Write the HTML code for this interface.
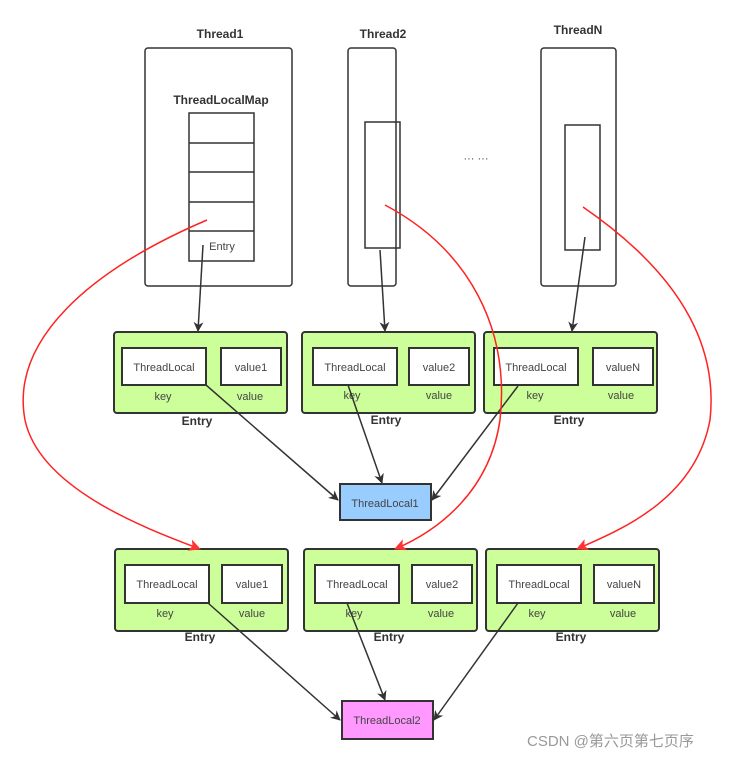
<!DOCTYPE html>
<html><head><meta charset="utf-8"><style>
body{margin:0;background:#fff;}
svg{display:block;font-family:"Liberation Sans","Noto Sans CJK SC",sans-serif;}
.b{font-weight:bold;font-size:12px;fill:#333;}
.t{font-size:11px;fill:#444;}
</style></head><body>
<svg width="732" height="758" viewBox="0 0 732 758">
<defs>
<marker id="ak" markerWidth="10" markerHeight="10" refX="9" refY="5" orient="auto" markerUnits="userSpaceOnUse"><path d="M0,0 L10,5 L0,10 L3,5z" fill="#333"/></marker>
<marker id="ar" markerWidth="12" markerHeight="12" refX="11" refY="6" orient="auto" markerUnits="userSpaceOnUse"><path d="M0,0 L12,6 L0,12 L3,6z" fill="#f33"/></marker>
</defs>
<g fill="none" stroke="#333" stroke-width="1.5">
<rect x="145" y="48" width="147" height="238" rx="3"/>
<rect x="348" y="48" width="48" height="238" rx="3"/>
<rect x="541" y="48" width="75" height="238" rx="3"/>
<rect x="189" y="113" width="65" height="148"/>
<line x1="189" y1="143" x2="254" y2="143"/><line x1="189" y1="172" x2="254" y2="172"/>
<line x1="189" y1="202" x2="254" y2="202"/><line x1="189" y1="231" x2="254" y2="231"/>
<rect x="365" y="122" width="35" height="126"/>
<rect x="565" y="125" width="35" height="125"/>
</g>
<text class="b" x="220" y="38" text-anchor="middle">Thread1</text>
<text class="b" x="383" y="38" text-anchor="middle">Thread2</text>
<text class="b" x="578" y="34" text-anchor="middle">ThreadN</text>
<text class="b" x="221" y="104" text-anchor="middle">ThreadLocalMap</text>
<text class="t" x="222" y="250" text-anchor="middle">Entry</text>
<text class="t" x="476" y="162" text-anchor="middle">··· ···</text>
<g stroke="#333" stroke-width="2">
<rect x="114" y="332" width="173" height="81" rx="3" fill="#ccff99"/>
<rect x="302" y="332" width="173" height="81" rx="3" fill="#ccff99"/>
<rect x="484" y="332" width="173" height="81" rx="3" fill="#ccff99"/>
<rect x="115" y="549" width="173" height="82" rx="3" fill="#ccff99"/>
<rect x="304" y="549" width="173" height="82" rx="3" fill="#ccff99"/>
<rect x="486" y="549" width="173" height="82" rx="3" fill="#ccff99"/>
<rect x="340" y="484" width="91" height="36" fill="#99ccff"/>
<rect x="342" y="701" width="91" height="38" fill="#ff99ff"/>
<g fill="#fff">
<rect x="122" y="348" width="84" height="37"/><rect x="221" y="348" width="60" height="37"/>
<rect x="313" y="348" width="84" height="37"/><rect x="409" y="348" width="60" height="37"/>
<rect x="494" y="348" width="84" height="37"/><rect x="593" y="348" width="60" height="37"/>
<rect x="125" y="565" width="84" height="38"/><rect x="222" y="565" width="60" height="38"/>
<rect x="315" y="565" width="84" height="38"/><rect x="412" y="565" width="60" height="38"/>
<rect x="497" y="565" width="84" height="38"/><rect x="594" y="565" width="60" height="38"/>
</g></g>
<g class="t" text-anchor="middle">
<text x="164" y="371">ThreadLocal</text><text x="251" y="371">value1</text>
<text x="355" y="371">ThreadLocal</text><text x="439" y="371">value2</text>
<text x="536" y="371">ThreadLocal</text><text x="623" y="371">valueN</text>
<text x="167" y="588">ThreadLocal</text><text x="252" y="588">value1</text>
<text x="357" y="588">ThreadLocal</text><text x="442" y="588">value2</text>
<text x="539" y="588">ThreadLocal</text><text x="624" y="588">valueN</text>
<text x="163" y="400">key</text><text x="250" y="400">value</text>
<text x="352" y="399">key</text><text x="439" y="399">value</text>
<text x="535" y="399">key</text><text x="621" y="399">value</text>
<text x="165" y="617">key</text><text x="252" y="617">value</text>
<text x="354" y="617">key</text><text x="441" y="617">value</text>
<text x="537" y="617">key</text><text x="623" y="617">value</text>
<text x="385" y="507">ThreadLocal1</text>
<text x="387" y="724">ThreadLocal2</text>
</g>
<g class="b" text-anchor="middle">
<text x="197" y="425">Entry</text><text x="386" y="424">Entry</text><text x="569" y="424">Entry</text>
<text x="200" y="641">Entry</text><text x="389" y="641">Entry</text><text x="571" y="641">Entry</text>
</g>
<g stroke="#333" stroke-width="1.5" fill="none" marker-end="url(#ak)">
<line x1="203" y1="245" x2="198" y2="331"/>
<line x1="380" y1="250" x2="385" y2="331"/>
<line x1="585" y1="237" x2="572" y2="331"/>
<line x1="206" y1="385" x2="338" y2="500"/>
<line x1="348" y1="385" x2="382" y2="483"/>
<line x1="518" y1="386" x2="432" y2="500"/>
<line x1="208" y1="603" x2="340" y2="720"/>
<line x1="347" y1="603" x2="385" y2="700"/>
<line x1="518" y1="603" x2="434" y2="720"/>
</g>
<g stroke="#f22" stroke-width="1.5" fill="none" marker-end="url(#ar)">
<path d="M207,220 C90,270 10,340 25,420 C40,490 150,530 200,549"/>
<path d="M385,205 C470,250 510,330 500,420 C490,490 440,530 395,549"/>
<path d="M583,207 C660,260 720,330 710,420 C695,500 620,530 577,549"/>
</g>
<text x="527" y="746" font-size="15" fill="#999">CSDN @第六页第七页序</text>
</svg>
</body></html>
